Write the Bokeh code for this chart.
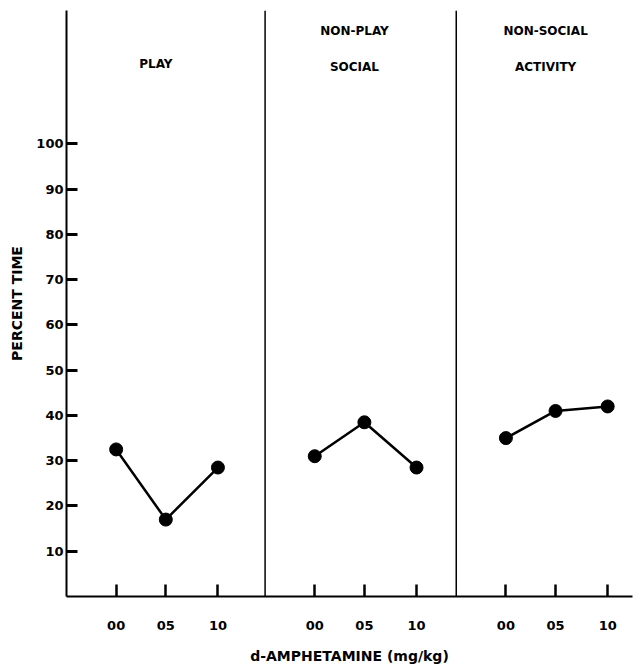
from bokeh.plotting import figure
from bokeh.models import Range1d, FixedTicker, Span
from bokeh.core.properties import value
from bokeh.embed import file_html
from bokeh.resources import INLINE

# ---- data ----
panels = ["PLAY", "NON-PLAY SOCIAL", "NON-SOCIAL ACTIVITY"]
panel_title_lines = [["PLAY"], ["NON-PLAY", "SOCIAL"], ["NON-SOCIAL", "ACTIVITY"]]
dose_labels = ["00", "05", "10"]
play = [32.5, 17.0, 28.5]
nonplay_social = [31.0, 38.5, 28.5]
nonsocial_activity = [35.0, 41.0, 42.0]
series = [play, nonplay_social, nonsocial_activity]
y_ticks = [10, 20, 30, 40, 50, 60, 70, 80, 90, 100]

# ---- layout of the panels on a shared x axis ----
panel_start = [0.0, 4.0, 7.85]
dose_offset = [1.0, 2.0, 3.05]
dividers = [4.0, 7.85]

FONT = "DejaVu Sans"

p = figure(width=634, height=666, output_backend="svg", toolbar_location=None,
           x_range=Range1d(0, 11.4), y_range=Range1d(0, 129.5),
           min_border_left=66, min_border_right=2, min_border_top=10,
           min_border_bottom=70)
p.grid.visible = False
p.outline_line_color = None
p.background_fill_color = "white"
p.border_fill_color = "white"

tick_pos = []
tick_map = {}
for i in range(3):
    xs = [panel_start[i] + d for d in dose_offset]
    for x, lab in zip(xs, dose_labels):
        tick_pos.append(x)
        tick_map[x] = lab
    p.line(xs, series[i], line_color="black", line_width=2.5)
    p.scatter(xs, series[i], size=13, marker="circle", fill_color="black", line_color="black")
    # panel titles
    lines = panel_title_lines[i]
    cx = panel_start[i] + 1.8
    if len(lines) == 1:
        p.text([cx], [117.6], text=[lines[0]], text_align="center", text_baseline="middle",
               text_font=value(FONT), text_font_style="bold", text_font_size="12px",
               text_color="black")
    else:
        p.text([cx, cx], [125.0, 117.0], text=lines, text_align="center", text_baseline="middle",
               text_font=value(FONT), text_font_style="bold", text_font_size="12px",
               text_color="black")

for d in dividers:
    p.add_layout(Span(location=d, dimension="height", line_color="black", line_width=1.5))

# x axis
xa = p.xaxis[0]
xa.ticker = FixedTicker(ticks=tick_pos)
xa.major_label_overrides = {x: l for x, l in tick_map.items()}
xa.major_tick_in = 12
xa.major_tick_out = 0
xa.major_tick_line_width = 2.5
xa.major_tick_line_color = "black"
xa.minor_tick_line_color = None
xa.axis_line_width = 2
xa.axis_line_color = "black"
xa.major_label_standoff = 24
xa.major_label_text_font = FONT
xa.major_label_text_font_style = "bold"
xa.major_label_text_font_size = "13px"
xa.major_label_text_color = "black"
xa.axis_label = "d-AMPHETAMINE (mg/kg)"
xa.axis_label_text_font = FONT
xa.axis_label_text_font_style = "bold"
xa.axis_label_text_font_size = "14px"
xa.axis_label_text_color = "black"
xa.axis_label_standoff = 15

# y axis
ya = p.yaxis[0]
ya.ticker = FixedTicker(ticks=y_ticks)
ya.major_tick_in = 11
ya.major_tick_out = 0
ya.major_tick_line_width = 3
ya.major_tick_line_color = "black"
ya.minor_tick_line_color = None
ya.axis_line_width = 2
ya.axis_line_color = "black"
ya.major_label_standoff = 3
ya.major_label_text_font = FONT
ya.major_label_text_font_style = "bold"
ya.major_label_text_font_size = "13px"
ya.major_label_text_color = "black"
ya.axis_label = "PERCENT TIME"
ya.axis_label_text_font = FONT
ya.axis_label_text_font_style = "bold"
ya.axis_label_text_font_size = "14px"
ya.axis_label_text_color = "black"
ya.axis_label_standoff = 8

open("out.html", "w").write(file_html(p, INLINE))
